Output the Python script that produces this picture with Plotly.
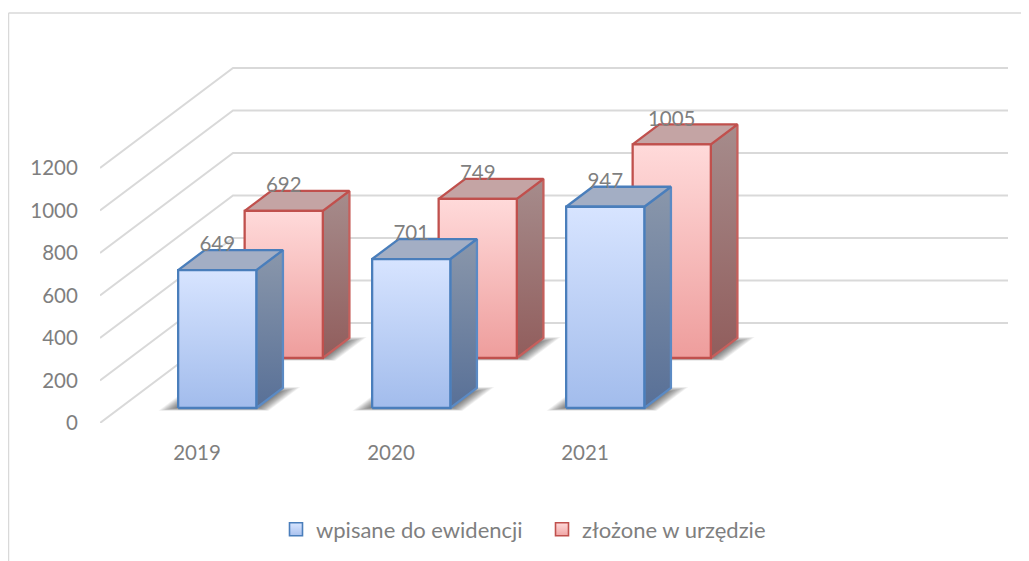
import plotly.graph_objects as go

categories = ["2019", "2020", "2021"]
wpisane = [649, 701, 947]
zlozone = [692, 749, 1005]
series_names = ["wpisane do ewidencji", "złożone w urzędzie"]
y_ticks = [0, 200, 400, 600, 800, 1000, 1200]

# the page body adds an 8px margin, so the figure itself is 8px smaller each way
PAGE = 8
W, H = 1029 - PAGE, 561 - PAGE
ML, MR, MT, MB = 100 - PAGE, 21, 67 - PAGE, 138

# oblique projection of the 3D chart box into the 2D axes
PX_PER_CAT = 194.0
PX_PER_UNIT = 0.2125
DEPTH_PX_X, DEPTH_PX_Y = 133.0, 100.0
N_SLOTS = 4
BAR_X0, BAR_W = 0.30, 0.403
DEPTH_FRONT = [0.15, 0.65]
BAR_DEPTH = 0.20
LABEL_LIFT = 24 / PX_PER_UNIT


def proj(cat, val, depth):
    return cat + depth * DEPTH_PX_X / PX_PER_CAT, val + depth * DEPTH_PX_Y / PX_PER_UNIT


def poly(points):
    xs, ys = zip(*[proj(*p) for p in points])
    return list(xs) + [xs[0]], list(ys) + [ys[0]]


GRID = "#d9d9d9"
TEXT = "#7f7f7f"
FONT_SIZE = 20.5
STYLES = [
    dict(line="#4a7ebb", side_line="#5b8ac4", front=("#d7e4ff", "#a2bcec"), side=("#8a97ab", "#587097"),
         top="#a3aec4", legend=("#d9e6ff", "#a9c1ee")),
    dict(line="#c0504d", side_line="#c65f5c", front=("#ffdada", "#ee9d9c"), side=("#a68c8c", "#915d5c"),
         top="#c4a4a4", legend=("#ffdada", "#f0a5a4")),
]

fig = go.Figure()

# wall and floor gridlines
for t in y_ticks:
    xs, ys = zip(*[proj(0, t, 0), proj(0, t, 1), proj(N_SLOTS, t, 1)])
    fig.add_trace(go.Scatter(x=xs, y=ys, mode="lines", line=dict(color=GRID, width=2),
                             showlegend=False, hoverinfo="skip"))


def draw_bar(cat_i, val, s):
    st = STYLES[s]
    x0 = cat_i + BAR_X0
    x1 = x0 + BAR_W
    d0 = DEPTH_FRONT[s]
    d1 = d0 + BAR_DEPTH
    faces = [
        ([(x1, 0, d0), (x1, 0, d1), (x1, val, d1), (x1, val, d0)], st["side"], st["side_line"]),
        ([(x0, val, d0), (x1, val, d0), (x1, val, d1), (x0, val, d1)], (st["top"], st["top"]), st["line"]),
        ([(x0, 0, d0), (x1, 0, d0), (x1, val, d0), (x0, val, d0)], st["front"], st["line"]),
    ]
    for pts, (c_top, c_bot), lc in faces:
        xs, ys = poly(pts)
        fig.add_trace(go.Scatter(
            x=xs, y=ys, mode="lines", fill="toself",
            fillgradient=dict(type="vertical", colorscale=[[0, c_bot], [1, c_top]]),
            line=dict(color=lc, width=2.3), showlegend=False, hoverinfo="skip"))


def draw_shadow(cat_i, s):
    x0 = cat_i + BAR_X0
    x1 = x0 + BAR_W
    d0 = DEPTH_FRONT[s]
    d1 = d0 + BAR_DEPTH
    layers = 16
    for k in range(layers):
        e = (layers - k) / layers
        ex = (e * 20 - 4) / PX_PER_CAT
        front = d0 - (e * 0.04 - 0.012)
        back = d1 + e * 0.07 - 0.06
        xs, ys = poly([(x0 - ex, 0, front), (x1 + ex, 0, front), (x1 + ex, 0, back), (x0 - ex, 0, back)])
        fig.add_trace(go.Scatter(x=xs, y=ys, mode="lines", fill="toself", line=dict(width=0),
                                 fillcolor="rgba(0,0,0,0.05)", showlegend=False, hoverinfo="skip"))


all_values = [wpisane, zlozone]
for s in (1, 0):
    for i in range(len(categories)):
        draw_shadow(i, s)
    for i, v in enumerate(all_values[s]):
        draw_bar(i, v, s)

# data labels
for s, vals in enumerate(all_values):
    xs = [i + BAR_X0 + BAR_W / 2 + DEPTH_FRONT[s] * DEPTH_PX_X / PX_PER_CAT for i in range(len(vals))]
    ys = [v + DEPTH_FRONT[s] * DEPTH_PX_Y / PX_PER_UNIT + LABEL_LIFT for v in vals]
    fig.add_trace(go.Scatter(x=xs, y=ys, mode="text", text=[str(v) for v in vals],
                             textposition="middle center", textfont=dict(color=TEXT, size=FONT_SIZE),
                             showlegend=False, hoverinfo="skip"))

# legend entries, one legend each so both can sit where the reference has them
for s, name in enumerate(series_names):
    st = STYLES[s]
    fig.add_trace(go.Scatter(
        x=[None], y=[None], mode="markers", name=name, legend="legend" if s == 0 else "legend2",
        marker=dict(symbol="square", size=13, color=st["legend"][0],
                    gradient=dict(type="vertical", color=st["legend"][1]),
                    line=dict(color=st["line"], width=1.6))))

x_max = (W - ML - MR) / PX_PER_CAT
y_max = (H - MT - MB) / PX_PER_UNIT
px_x = lambda p: (p - PAGE - ML) / (W - ML - MR)
px_y = lambda p: (H - MB - (p - PAGE)) / (H - MT - MB)
legend_common = dict(orientation="h", xanchor="left", yanchor="middle", xref="paper", yref="paper",
                     font=dict(size=22, color=TEXT), itemwidth=30, bgcolor="rgba(0,0,0,0)")
fig.update_layout(
    width=W, height=H, autosize=False,
    margin=dict(l=ML, r=MR, t=MT, b=MB, autoexpand=False),
    paper_bgcolor="white", plot_bgcolor="white",
    font=dict(family="Lato, Carlito, sans-serif", color=TEXT, size=FONT_SIZE),
    xaxis=dict(range=[0, x_max], showgrid=False, zeroline=False, showline=False,
               tickmode="array", tickvals=[i + 0.5 for i in range(len(categories))], ticktext=categories,
               ticks="outside", ticklen=11, tickcolor="rgba(0,0,0,0)", tickfont=dict(size=FONT_SIZE, color=TEXT)),
    yaxis=dict(range=[0, y_max], showgrid=False, zeroline=False, showline=False,
               tickmode="array", tickvals=y_ticks,
               ticks="outside", ticklen=17, tickcolor="rgba(0,0,0,0)", tickfont=dict(size=FONT_SIZE, color=TEXT)),
    legend=dict(x=px_x(276), y=px_y(529.5), **legend_common),
    legend2=dict(x=px_x(542), y=px_y(529.5), **legend_common),
    shapes=[
        dict(type="line", xref="paper", yref="paper", x0=px_x(8.5), x1=px_x(1029),
             y0=px_y(13), y1=px_y(13), line=dict(color=GRID, width=1.5)),
        dict(type="line", xref="paper", yref="paper", x0=px_x(8.5), x1=px_x(8.5),
             y0=px_y(13), y1=px_y(561), line=dict(color=GRID, width=1.5)),
    ],
)
fig.write_html("out.html")
